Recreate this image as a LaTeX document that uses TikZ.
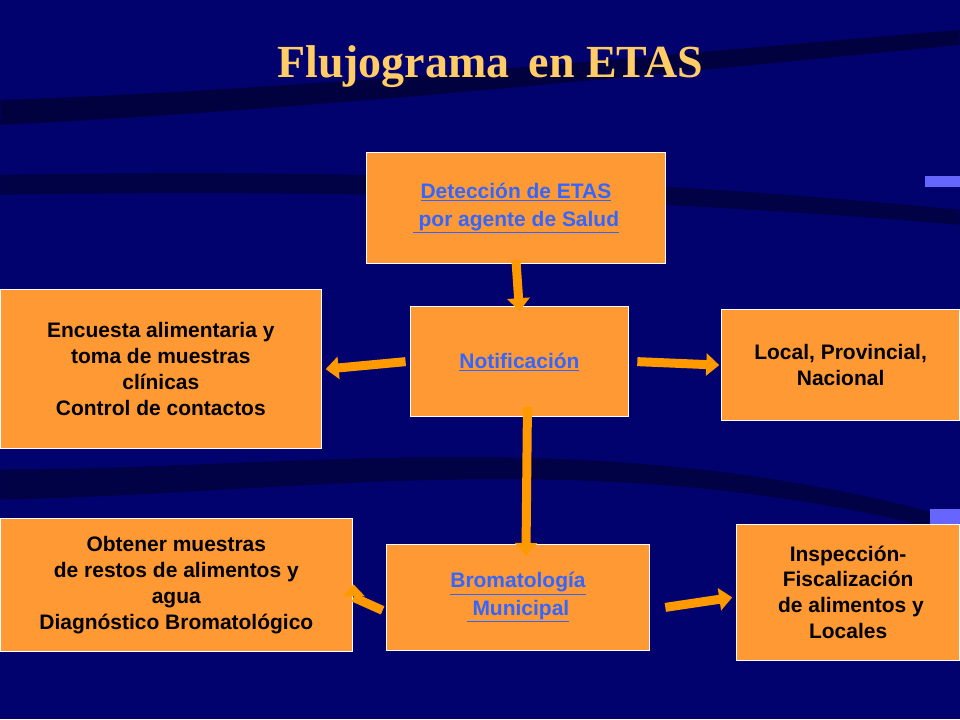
\documentclass[tikz,border=0pt]{standalone}
\usepackage{fontspec}
\setmainfont{Liberation Sans}
\newfontfamily\titlefont{Liberation Serif}
\usetikzlibrary{arrows.meta}
\definecolor{bg}{HTML}{02026E}
\definecolor{boxor}{HTML}{FF9933}
\definecolor{arrowor}{HTML}{FF9900}
\definecolor{link}{HTML}{3366FF}
\definecolor{ttl}{HTML}{FFCC66}
\tikzset{
  box/.style={draw=white, line width=1pt, fill=boxor, font=\fontsize{21}{26}\selectfont\bfseries, text=black, align=center, inner sep=0pt},
  barrow/.style={draw=arrowor, line width=9pt, -{Triangle[width=22pt,length=13pt]}, shorten >=0pt},
}
\newcommand{\lnk}[1]{\textcolor{link}{\underline{#1}}}
\begin{document}
\begin{tikzpicture}[x=1pt,y=-1pt]
\fill[bg] (0,0) rectangle (960,720);
\fill[black!60!bg, opacity=0.7] (0,100) .. controls (300,90) and (600,60) .. (960,30) -- (960,45) .. controls (600,80) and (300,110) .. (0,125) -- cycle;
\fill[black!60!bg, opacity=0.6] (0,175) .. controls (300,170) and (600,175) .. (960,210) -- (960,225) .. controls (600,195) and (300,190) .. (0,195) -- cycle;
\fill[black!60!bg, opacity=0.6] (0,470) .. controls (300,470) and (600,420) .. (960,520) -- (960,535) .. controls (600,440) and (300,495) .. (0,500) -- cycle;
\fill[blue!60!white] (925,176) rectangle (960,187);
\fill[blue!60!white] (930,510) rectangle (960,525);
\node[font=\titlefont\fontsize{46}{50}\selectfont\bfseries, text=ttl] (title) at (490,67) {Flujograma\, en ETAS};
\node[box, minimum width=300, minimum height=111] (det) at (516,208.5) {\lnk{Detección de ETAS}\\[2pt]\lnk{\ por agente de Salud}};
\node[box, minimum width=219, minimum height=110] (not) at (519.5,362) {\lnk{Notificación}};
\node[box, minimum width=321, minimum height=159] (enc) at (160.5,369.5) {Encuesta alimentaria y\\toma de muestras\\clínicas\\Control de contactos};
\node[box, minimum width=238, minimum height=111] (loc) at (841,365.5) {Local, Provincial,\\Nacional};
\node[box, minimum width=352, minimum height=133] (obt) at (176,585.5) {Obtener muestras\\de restos de alimentos y\\agua\\Diagnóstico Bromatológico};
\node[box, minimum width=264, minimum height=106] (bro) at (518,598) {\lnk{Bromatología}\\[2pt]\lnk{\ Municipal}};
\node[box, minimum width=223, minimum height=136] (ins) at (848.5,593) {Inspección-\\Fiscalización\\\ de alimentos y\\Locales};
\draw[barrow] ([yshift=4]det.south) -- ([yshift=-5]not.north);
\draw[barrow] ([xshift=-4]not.west) -- ([xshift=4]enc.east);
\draw[barrow] ([xshift=8]not.east) -- ([xshift=-2]loc.west);
\draw[barrow] ([xshift=8,yshift=10]not.south) -- ([xshift=8,yshift=-12]bro.north);
\draw[barrow, -{Triangle[width=22pt,length=12pt]}] ([xshift=-3,yshift=-13]bro.west) -- ([xshift=1]obt.east|-bro.west) ++(0,-13);
\draw[barrow] ([xshift=15,yshift=-10]bro.east) -- ([xshift=-4,yshift=-5]ins.west);
\end{tikzpicture}
\end{document}
